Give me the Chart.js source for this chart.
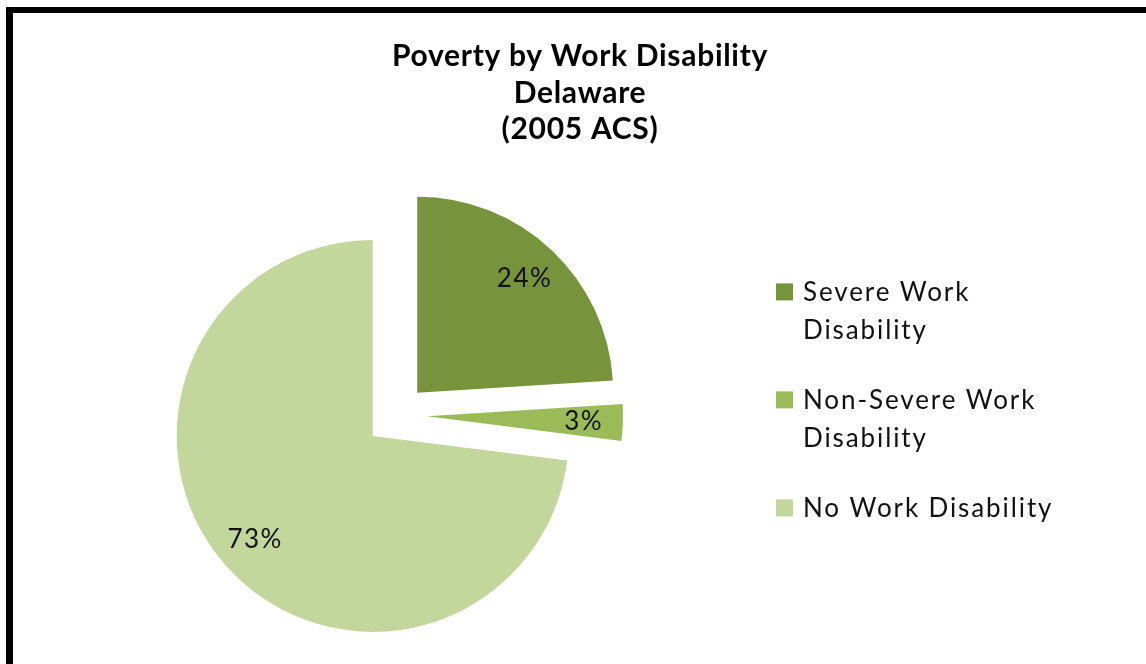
<!DOCTYPE html>
<html>
<head>
<meta charset="utf-8">
<title>Poverty by Work Disability</title>
<script src="https://cdn.jsdelivr.net/npm/chart.js@4/dist/chart.umd.min.js"></script>
<style>
  html, body { margin: 0; padding: 0; background: #fff; overflow: hidden; }
  body { width: 1146px; height: 664px; position: relative; }
  #frame {
    position: absolute; left: 6px; top: 7px; width: 1200px; height: 720px;
    border-top: 6px solid #000; border-left: 7px solid #000; box-sizing: border-box;
  }
  #pie { position: absolute; left: 0; top: 0; }
</style>
</head>
<body>
<div id="frame"></div>
<canvas id="pie" width="1160" height="672"></canvas>
<script>
// data
const titleLines = ['Poverty by Work Disability', 'Delaware', '(2005 ACS)'];
const categories = ['Severe Work Disability', 'Non-Severe Work Disability', 'No Work Disability'];
const shares = [24, 3, 73];
const sliceColors = ['#77933C', '#9BBB59', '#C3D69B'];

const FONT = 'Lato, "Open Sans", sans-serif';

// the Excel text is a bit spread out; canvas letterSpacing gets close
const spacing = {
  id: 'spacing',
  beforeDraw(chart, args, opts) {
    chart.ctx.letterSpacing = opts.title;
  }
};

// pull every slice out along its middle angle (Excel "explode")
const explode = {
  id: 'explode',
  afterDatasetsUpdate(chart, args, opts) {
    chart.getDatasetMeta(0).data.forEach(arc => {
      const mid = (arc.startAngle + arc.endAngle) / 2;
      arc.x += Math.cos(mid) * opts.distance;
      arc.y += Math.sin(mid) * opts.distance;
    });
  }
};

// percent labels inside the slices
const sliceLabels = {
  id: 'sliceLabels',
  afterDatasetsDraw(chart, args, opts) {
    const ctx = chart.ctx;
    const values = chart.data.datasets[0].data;
    const total = values.reduce((a, b) => a + b, 0);
    ctx.save();
    ctx.font = opts.font;
    ctx.letterSpacing = opts.letterSpacing;
    ctx.fillStyle = opts.color;
    ctx.textAlign = 'center';
    ctx.textBaseline = 'middle';
    chart.getDatasetMeta(0).data.forEach((arc, i) => {
      const mid = (arc.startAngle + arc.endAngle) / 2;
      const r = arc.outerRadius * opts.position;
      const txt = Math.round(values[i] / total * 100) + '%';
      ctx.fillText(txt, arc.x + Math.cos(mid) * r, arc.y + Math.sin(mid) * r);
    });
    ctx.restore();
  }
};

function wrapWords(ctx, text, maxWidth) {
  const words = text.split(' ');
  const lines = [];
  let cur = '';
  words.forEach(w => {
    const test = cur ? cur + ' ' + w : w;
    if (cur && ctx.measureText(test).width > maxWidth) {
      lines.push(cur);
      cur = w;
    } else {
      cur = test;
    }
  });
  if (cur) lines.push(cur);
  return lines;
}

// legend on the right, as a layout box so the plot area shrinks for it
const sideLegend = {
  id: 'sideLegend',
  beforeInit(chart, args, opts) {
    const box = {
      position: 'right', weight: 0, fullSize: false, options: {},
      top: 0, left: 0, right: 0, bottom: 0, width: 0, height: 0,
      isHorizontal() { return false; },
      update(maxW, maxH) { this.width = opts.width; this.height = maxH; },
      draw() {
        const ctx = chart.ctx;
        const ds = chart.data.datasets[0];
        ctx.save();
        ctx.font = opts.font;
        ctx.letterSpacing = opts.letterSpacing;
        ctx.textAlign = 'left';
        ctx.textBaseline = 'alphabetic';
        const items = chart.data.labels.map(t => wrapWords(ctx, t, opts.textWidth));
        const nLines = items.reduce((n, it) => n + it.length, 0);
        const blockH = (nLines - 1) * opts.lineHeight + (items.length - 1) * opts.itemGap;
        let y = (this.top + this.bottom) / 2 - blockH / 2 + opts.shift;
        const x = this.left + opts.inset;
        items.forEach((lines, i) => {
          ctx.fillStyle = ds.backgroundColor[i];
          ctx.fillRect(x, y - opts.boxSize - 1, opts.boxSize, opts.boxSize);
          ctx.fillStyle = opts.color;
          lines.forEach(line => {
            ctx.fillText(line, x + opts.textOffset, y);
            y += opts.lineHeight;
          });
          y += opts.itemGap;
        });
        ctx.restore();
      }
    };
    Chart.layouts.addBox(chart, box);
  }
};

new Chart(document.getElementById('pie'), {
  type: 'pie',
  data: {
    labels: categories,
    datasets: [{
      data: shares,
      backgroundColor: sliceColors,
      borderWidth: 0
    }]
  },
  options: {
    responsive: false,
    animation: false,
    radius: 196,
    layout: { padding: 0 },
    plugins: {
      legend: { display: false },
      tooltip: { enabled: false },
      title: {
        display: true,
        text: titleLines,
        color: '#000',
        font: { family: FONT, size: 30, weight: 'bold', lineHeight: 1.22 },
        padding: { top: 38, bottom: 11 }
      },
      spacing: { title: '0.7px' },
      explode: { distance: 31 },
      sliceLabels: { font: '26px ' + FONT, color: '#111', position: 0.8, letterSpacing: '1.5px' },
      sideLegend: {
        width: 368, inset: -16, boxSize: 17, textOffset: 27, textWidth: 270,
        font: '26px ' + FONT, letterSpacing: '1.9px', color: '#111',
        lineHeight: 38, itemGap: 32, shift: -6
      }
    }
  },
  plugins: [spacing, explode, sliceLabels, sideLegend]
});
</script>
</body>
</html>
